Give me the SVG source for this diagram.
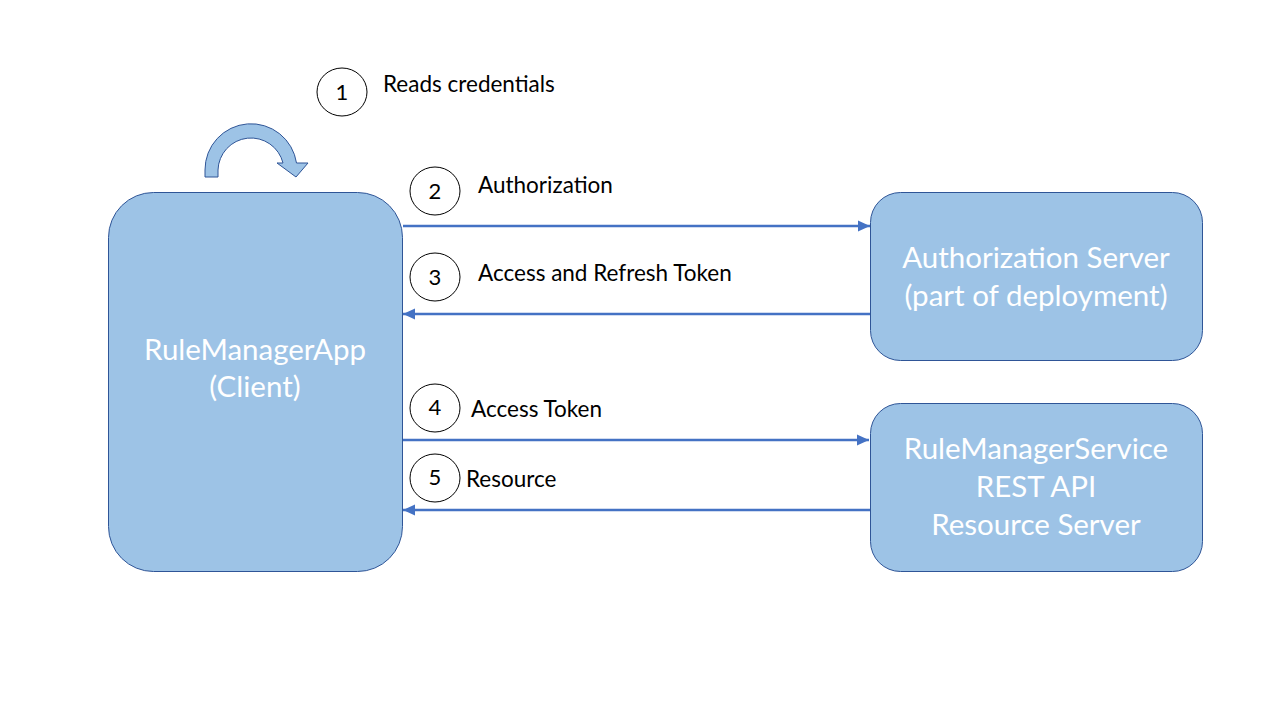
<svg xmlns="http://www.w3.org/2000/svg" width="1280" height="720" viewBox="0 0 1280 720">
<defs>
<style>
.box{fill:#9DC3E6;stroke:#2F5597;stroke-width:1}
.btxt{font-family:Lato,"Liberation Sans",sans-serif;font-size:29.5px;fill:#FFFFFF;text-anchor:middle}
.lbl{font-family:Lato,"Liberation Sans",sans-serif;font-size:22.5px;fill:#000000}
.num{font-family:Lato,"Liberation Sans",sans-serif;font-size:22px;fill:#000000;text-anchor:middle}
.circ{fill:#FFFFFF;stroke:#000000;stroke-width:1}
.conn{stroke:#4472C4;stroke-width:2.5;fill:none;marker-end:url(#ah)}
</style>
<marker id="ah" markerUnits="userSpaceOnUse" markerWidth="12" markerHeight="12" refX="10" refY="5" orient="auto" viewBox="0 0 10 10">
<path d="M0,0.5 L10,5 L0,9.5 Z" fill="#4472C4"/>
</marker>
</defs>
<rect width="1280" height="720" fill="#FFFFFF"/>
<g id="client">
<rect class="box" x="108.5" y="192.5" width="294" height="379" rx="45" ry="45"/>
<text class="btxt" x="255" y="360">RuleManagerApp</text>
<text class="btxt" x="255" y="397">(Client)</text>
</g>
<g id="authserver">
<rect class="box" x="870.5" y="192.5" width="332" height="168" rx="30" ry="30"/>
<text class="btxt" x="1036" y="268">Authorization Server</text>
<text class="btxt" x="1036" y="306">(part of deployment)</text>
</g>
<g id="resourceserver">
<rect class="box" x="870.5" y="403.5" width="332" height="168" rx="30" ry="30"/>
<text class="btxt" x="1036" y="459">RuleManagerService</text>
<text class="btxt" x="1036" y="497">REST API</text>
<text class="btxt" x="1036" y="535">Resource Server</text>
</g>
<g id="selfloop">
<path class="box" d="M205,177 L205,170 A46,46 0 0 1 296.5,163 L308,163 L296,177 L277,163 L283,163 A33,33 0 0 0 218,170 L218,177 Z"/>
</g>
<g id="connectors">
<line class="conn" x1="403" y1="226" x2="870" y2="226"/>
<line class="conn" x1="870" y1="314" x2="403" y2="314"/>
<line class="conn" x1="403" y1="440" x2="869" y2="440"/>
<line class="conn" x1="870" y1="510" x2="403" y2="510"/>
</g>
<g id="step1">
<ellipse class="circ" cx="342" cy="92" rx="25" ry="24"/>
<text class="num" x="342" y="100">1</text>
<text class="lbl" x="383" y="92">Reads credentials</text>
</g>
<g id="step2">
<ellipse class="circ" cx="435" cy="191" rx="25" ry="24"/>
<text class="num" x="435" y="199">2</text>
<text class="lbl" x="478" y="193">Authorization</text>
</g>
<g id="step3">
<ellipse class="circ" cx="435" cy="277" rx="25" ry="24"/>
<text class="num" x="435" y="285">3</text>
<text class="lbl" x="478" y="281">Access and Refresh Token</text>
</g>
<g id="step4">
<ellipse class="circ" cx="435" cy="408" rx="25" ry="24"/>
<text class="num" x="435" y="415">4</text>
<text class="lbl" x="471" y="417">Access Token</text>
</g>
<g id="step5">
<ellipse class="circ" cx="435" cy="478" rx="25" ry="24"/>
<text class="num" x="435" y="485">5</text>
<text class="lbl" x="466" y="487">Resource</text>
</g>
</svg>
